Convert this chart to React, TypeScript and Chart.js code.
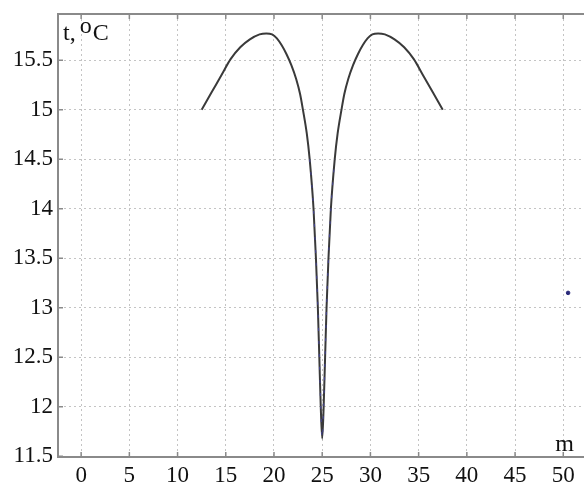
import React, { useEffect, useRef } from "react";
import { Chart, registerables } from "chart.js";

Chart.register(...registerables);

const xValues = [
  12.5, 13.5, 14.5, 15.5, 16.5, 17.5, 18.5, 19.2, 19.8, 20.3, 20.8, 21.3, 21.8, 22.3, 22.7, 23.0, 23.4, 23.7, 24.1,
  24.35, 24.55, 24.7, 24.85, 25.0, 25.15, 25.3, 25.45, 25.65, 25.9, 26.3, 26.6, 27.0, 27.3, 27.7, 28.2, 28.7, 29.2,
  29.7, 30.2, 30.8, 31.5, 32.5, 33.5, 34.5, 35.5, 36.5, 37.5,
];
const tValues = [
  15.0, 15.17, 15.34, 15.51, 15.63, 15.71, 15.76, 15.77, 15.76, 15.72, 15.65, 15.56, 15.45, 15.31, 15.16, 15.0, 14.76,
  14.5, 14.0, 13.5, 13.0, 12.5, 12.0, 11.68, 12.0, 12.5, 13.0, 13.5, 14.0, 14.5, 14.76, 15.0, 15.16, 15.31, 15.45,
  15.56, 15.65, 15.72, 15.76, 15.77, 15.76, 15.71, 15.63, 15.51, 15.34, 15.17, 15.0,
];
const markerX = [50.5];
const markerT = [13.15];
const xTicks = [0, 5, 10, 15, 20, 25, 30, 35, 40, 45, 50];
const yTicks = [11.5, 12, 12.5, 13, 13.5, 14, 14.5, 15, 15.5];
const yLabel = ["t,", "o", "C"];
const xLabel = "m";

const FONT = "'Liberation Serif', 'Times New Roman', serif";

const framePlugin = {
  id: "frame",
  afterDraw(chart: any) {
    const { ctx, chartArea } = chart;
    const xs = chart.scales.x;
    const ys = chart.scales.y;
    ctx.save();
    ctx.strokeStyle = "#8a8a8a";
    ctx.lineWidth = 2;
    ctx.beginPath();
    ctx.moveTo(chartArea.left - 1, chartArea.top);
    ctx.lineTo(chartArea.right + 2, chartArea.top);
    ctx.stroke();
    ctx.lineWidth = 1.5;
    ctx.beginPath();
    xTicks.forEach((v) => {
      const px = xs.getPixelForValue(v);
      ctx.moveTo(px, chartArea.top);
      ctx.lineTo(px, chartArea.top + 5);
      ctx.moveTo(px, chartArea.bottom);
      ctx.lineTo(px, chartArea.bottom - 5);
    });
    yTicks.forEach((v) => {
      const py = ys.getPixelForValue(v);
      ctx.moveTo(chartArea.left, py);
      ctx.lineTo(chartArea.left + 5, py);
    });
    ctx.stroke();

    ctx.fillStyle = "#111";
    ctx.textBaseline = "alphabetic";
    ctx.textAlign = "left";
    ctx.font = "24px " + FONT;
    const left = chartArea.left + 5;
    ctx.fillText(yLabel[0], left, chartArea.top + 26);
    const w0 = ctx.measureText(yLabel[0]).width;
    ctx.fillText(yLabel[1], left + w0 + 4, chartArea.top + 19);
    const w1 = ctx.measureText(yLabel[1]).width;
    ctx.fillText(yLabel[2], left + w0 + 4 + w1 + 1, chartArea.top + 26);
    ctx.font = "24px " + FONT;
    ctx.fillText(xLabel, xs.getPixelForValue(50) - 8, chartArea.bottom - 6);
    ctx.restore();
  },
};

export default function App() {
  const ref = useRef<HTMLCanvasElement | null>(null);
  useEffect(() => {
    if (!ref.current) return;
    const chart = new Chart(ref.current, {
      type: "line",
      data: {
        datasets: [
          {
            data: xValues.map((x, i) => ({ x, y: tValues[i] })),
            borderColor: "#3a3a3a",
            borderWidth: 2,
            pointRadius: 0,
            cubicInterpolationMode: "monotone",
            fill: false,
            order: 2,
          },
          {
            data: xValues.map((x, i) => ({ x, y: tValues[i] })).filter((p) => p.y < 14.6),
            borderColor: "rgba(70,70,170,0.7)",
            borderWidth: 1.2,
            borderDash: [3, 10],
            pointRadius: 0,
            cubicInterpolationMode: "monotone",
            fill: false,
            order: 1,
          },
          {
            type: "scatter",
            data: markerX.map((x, i) => ({ x, y: markerT[i] })),
            backgroundColor: "#2a2a7a",
            borderColor: "#2a2a7a",
            pointRadius: 1.8,
            showLine: false,
            order: 0,
          } as any,
        ],
      },
      options: {
        animation: false,
        responsive: false,
        maintainAspectRatio: false,
        layout: { autoPadding: false, padding: { top: 14, right: 0, left: 0, bottom: 0 } },
        plugins: { legend: { display: false }, tooltip: { enabled: false } },
        scales: {
          x: {
            type: "linear",
            min: -2.4,
            max: 52.15,
            afterBuildTicks: (s: any) => {
              s.ticks = xTicks.map((v) => ({ value: v }));
            },
            afterFit: (s: any) => {
              s.height = 27;
              s.paddingLeft = 0;
              s.paddingRight = 0;
            },
            ticks: {
              font: { family: FONT, size: 23 },
              color: "#111",
              padding: 5,
              maxRotation: 0,
              autoSkip: false,
              callback: (v: any) => String(v),
            },
            grid: { color: "#c4c4c4", lineWidth: 1, drawTicks: false },
            border: { display: true, color: "#8a8a8a", width: 2, dash: [2, 3] },
          },
          y: {
            type: "linear",
            min: 11.493,
            max: 15.966,
            afterBuildTicks: (s: any) => {
              s.ticks = yTicks.map((v) => ({ value: v }));
            },
            afterFit: (s: any) => {
              s.width = 58;
              s.paddingTop = 0;
              s.paddingBottom = 0;
            },
            ticks: {
              font: { family: FONT, size: 23 },
              color: "#111",
              padding: 5,
              autoSkip: false,
              callback: (v: any) => String(v),
            },
            grid: { color: "#c4c4c4", lineWidth: 1, drawTicks: false },
            border: { display: true, color: "#8a8a8a", width: 2, dash: [2, 3] },
          },
        },
      } as any,
      plugins: [framePlugin],
    });
    return () => chart.destroy();
  }, []);
  return (
    <div style={{ position: "fixed", left: 0, top: 0, width: 584, height: 484, background: "#fff" }}>
      <canvas ref={ref} width={584} height={484} style={{ width: 584, height: 484, display: "block" }} />
    </div>
  );
}
